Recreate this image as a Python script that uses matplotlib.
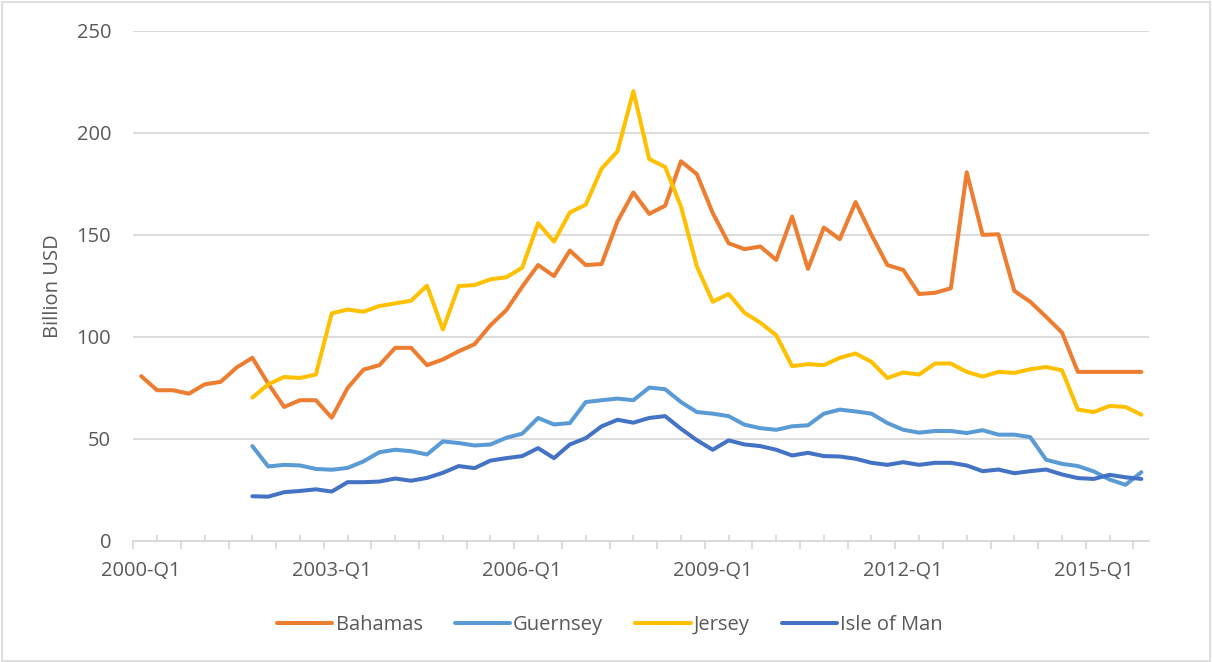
import numpy as np
import matplotlib
matplotlib.use("Agg")
import matplotlib.pyplot as plt
from matplotlib.patches import Rectangle

plt.rcParams['font.family'] = ['Open Sans', 'DejaVu Sans']

# ---- data ----
quarters = [f"{y}-Q{q}" for y in range(2000, 2016) for q in range(1, 5)]
label_every = 12

nan = np.nan
bahamas = [80.7, 73.8, 73.8, 72.1, 76.7, 77.9, 84.9, 89.7, 77.0, 65.6,
           68.9, 68.9, 60.3, 74.9, 83.9, 86.1, 94.6, 94.6, 86.1, 88.9,
           92.9, 96.4, 105.7, 113.1, 124.6, 135.2, 129.8, 142.3, 135.2, 135.7,
           156.6, 170.8, 160.3, 164.3, 186.1, 179.8, 160.7, 145.9, 143.0, 144.3,
           137.7, 159.0, 133.3, 153.6, 147.9, 166.1, 150.0, 135.2, 132.8, 121.0,
           121.6, 123.8, 180.7, 150.0, 150.3, 122.5, 117.2, 109.8, 102.1, 82.8,
           82.8, 82.8, 82.8, 82.8]
guernsey = [nan] * 7 + [46.4, 36.4, 37.2, 36.9, 35.2, 34.8, 35.7, 38.9, 43.4, 44.6,
           43.9, 42.3, 48.7, 47.9, 46.7, 47.2, 50.5, 52.5, 60.2, 57.0,
           57.7, 68.0, 68.9, 69.7, 68.9, 75.1, 74.3, 68.0, 63.1, 62.3,
           61.1, 56.9, 55.2, 54.4, 56.1, 56.6, 62.3, 64.3, 63.4, 62.3,
           57.7, 54.4, 53.0, 53.8, 53.8, 52.8, 54.2, 52.0, 52.0, 50.8,
           39.7, 37.7, 36.6, 34.0, 30.0, 27.4, 33.6]
jersey = [nan] * 7 + [70.2, 76.7, 80.3, 79.8, 81.5, 111.5, 113.4, 112.3, 115.1, 116.4,
         117.7, 125.1, 103.6, 124.9, 125.4, 128.2, 129.2, 133.9, 155.7, 146.7,
         161.0, 164.8, 182.5, 191.0, 220.5, 187.2, 183.3, 163.9, 134.5, 117.2,
         121.0, 111.8, 106.9, 100.8, 85.6, 86.6, 86.1, 89.7, 91.8, 87.7,
         79.8, 82.5, 81.5, 86.9, 86.9, 82.8, 80.5, 82.8, 82.3, 84.1,
         85.2, 83.6, 64.3, 63.1, 66.1, 65.6, 61.8]
isle_of_man = [nan] * 7 + [21.8, 21.6, 23.8, 24.4, 25.2, 24.1, 28.7, 28.7, 29.0, 30.5,
              29.4, 30.8, 33.3, 36.6, 35.6, 39.3, 40.5, 41.5, 45.4, 40.5,
              47.2, 50.3, 56.1, 59.3, 57.9, 60.2, 61.1, 54.9, 49.3, 44.6,
              49.2, 47.2, 46.4, 44.6, 41.8, 43.1, 41.5, 41.3, 40.2, 38.2,
              37.2, 38.5, 37.2, 38.2, 38.2, 36.9, 34.1, 34.9, 33.1, 34.1,
              34.9, 32.5, 30.7, 30.3, 32.3, 31.1, 30.3]

series_names = ["Bahamas", "Guernsey", "Jersey", "Isle of Man"]
series_values = [bahamas, guernsey, jersey, isle_of_man]
colors = ["#ED7D31", "#5B9BD5", "#FFC000", "#4472C4"]

y_ticks = [0, 50, 100, 150, 200, 250]
y_label = "Billion USD"

# ---- figure ----
W, H = 1212, 662
fig = plt.figure(figsize=(W / 100, H / 100), dpi=100)
fig.patch.set_facecolor("white")

left, right, top, bottom = 133.3, 1149.3, 31.0, 540.7
ax = fig.add_axes([left / W, 1 - bottom / H, (right - left) / W, (bottom - top) / H])

x = np.arange(len(quarters))
for name, vals, c in zip(series_names, series_values, colors):
    ax.plot(x, vals, color=c, lw=2.9, label=name,
            solid_joinstyle="round", solid_capstyle="round")

ax.set_xlim(-0.5, len(quarters) - 0.5)
ax.set_ylim(0, 250)

txt_color = "#595959"
grid_color = "#D9D9D9"
fs = 14.5

ax.set_yticks(y_ticks)
ax.set_yticklabels([str(v) for v in y_ticks])
ax.yaxis.grid(True, color=grid_color, lw=1.3)
ax.set_axisbelow(True)
ax.tick_params(axis="y", length=0, pad=16, labelsize=fs, labelcolor=txt_color)

# major ticks (outward, every 3 categories) and minor ticks (inward)
ax.set_xticks(np.arange(-0.5, len(quarters), 3))
ax.set_xticklabels([])
ax.set_xticks(np.arange(1, len(quarters), 3), minor=True)
ax.tick_params(axis="x", which="major", length=6, width=1.3, color=grid_color, direction="out")
ax.tick_params(axis="x", which="minor", length=4, width=1.3, color=grid_color, direction="in")

for i in range(0, len(quarters), label_every):
    ax.text(i, -0.06, quarters[i], transform=ax.get_xaxis_transform(),
            ha="center", va="center", fontsize=fs, color=txt_color)

for s in ["left", "right", "top"]:
    ax.spines[s].set_visible(False)
ax.spines["bottom"].set_color(grid_color)
ax.spines["bottom"].set_linewidth(1.3)

fig.text(53 / W, 1 - 286 / H, y_label, rotation=90, ha="center", va="center",
         fontsize=fs, color=txt_color)

handles, labels = ax.get_legend_handles_labels()
leg = fig.legend(handles, labels, loc="center", bbox_to_anchor=(610 / W, 1 - 625 / H),
                 ncol=4, frameon=False, fontsize=fs, handlelength=2.75,
                 handletextpad=0.15, columnspacing=1.6, labelcolor=txt_color)

fig.patches.append(Rectangle((2 / W, 1 / H), (W - 4) / W, (H - 3) / H,
                             transform=fig.transFigure, fill=False,
                             edgecolor=grid_color, lw=1.2))

fig.savefig("out.png", dpi=100)
